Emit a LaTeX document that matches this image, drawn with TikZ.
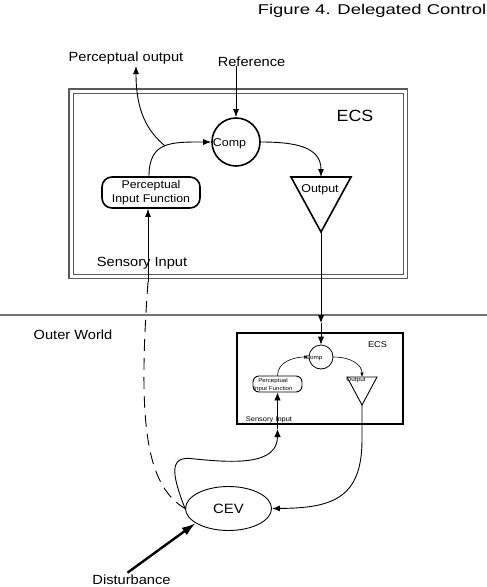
\documentclass[tikz,border=0pt]{standalone}
\usepackage{fontspec}
\setmainfont{Liberation Sans}[FakeStretch=1.1]
\newfontfamily\titlefont{Liberation Sans}[FakeStretch=1.3]
\usetikzlibrary{arrows.meta,shapes.geometric}
\definecolor{boxgray}{RGB}{90,90,90}
\definecolor{linegray}{RGB}{115,115,115}
\begin{document}
\begin{tikzpicture}[x=1pt,y=-1pt,
  lbl/.style={inner sep=0pt, anchor=base, font=\fontsize{13.3}{16}\selectfont},
  midtxt/.style={inner sep=0pt, anchor=base, font=\fontsize{11.3}{14}\selectfont},
  tinytxt/.style={inner sep=0pt, anchor=base, font=\fontsize{5.8}{8}\selectfont},
  arr/.style={-{Latex[length=8pt,width=6pt]}, line width=0.9pt},
  marr/.style={-{Latex[length=8pt,width=6.5pt]}, line width=0.9pt},
  sarr/.style={-{Latex[length=4.5pt,width=3.5pt]}, line width=0.6pt},
  thickshape/.style={draw, line width=1.6pt},
]
\useasboundingbox (0,0) rectangle (487,587);

% title
\node[anchor=base east, inner sep=0pt, font=\titlefont\fontsize{14.2}{17}\selectfont] (title) at (486.5,14) {Figure 4. Delegated Control};

% outer labels
\node[lbl] (po) at (126,61) {Perceptual output};
\node[lbl] (ref) at (251.5,66) {Reference};
\coordinate (potip) at (136,66);

% big ECS box
\node[draw=boxgray, double, double distance=3pt, line width=1.2pt, minimum width=334.5pt, minimum height=185.5pt, inner sep=0pt] (ecs) at (238.25,183.75) {};
\node[inner sep=0pt, anchor=base, font=\fontsize{16.2}{19}\selectfont] (ecslbl) at (355,121) {ECS};

% comparator
\node[thickshape, circle, minimum size=48pt, inner sep=0pt] (comp) at (236,142) {};
\node[midtxt] (comptxt) at (229.5,146) {Comp};

% perceptual input function
\node[thickshape, rounded corners=10pt, minimum width=98pt, minimum height=31pt, inner sep=0pt, align=center, font=\fontsize{11.2}{14}\selectfont] (pif) at (151,192.5) {Perceptual\\Input Function};

% output triangle
\coordinate (otl) at (291,177);
\coordinate (otr) at (351,177);
\coordinate (oapex) at (321,232);
\coordinate (otop) at (321,177);
\draw[line width=1.6pt, line join=miter] (otl) -- (otr) -- (oapex) -- cycle;
\node[midtxt] (outtxt) at (320,192) {Output};

\node[lbl] (silbl) at (142,266) {Sensory Input};

% connectors in big ECS
\draw[arr] (ref.south -| comp.north) -- (comp.north);
\draw[arr] ([xshift=-2pt]pif.north) .. controls +(0,-35) and +(-40,0) .. coordinate[pos=0.5] (junc) (comp.west);
\draw[arr] (junc) .. controls +(-18,-15) and +(0,45) .. (potip);
\draw[arr] (comp.east) .. controls +(35,0) and +(0,-30) .. (otop);

% boundary line
\draw[draw=linegray, line width=1.4pt] (0,315) -- (487,315);
\node[lbl] (owlbl) at (73,339) {Outer World};

% small ECS box
\node[draw, line width=1.8pt, minimum width=166pt, minimum height=91pt, inner sep=0pt] (secs) at (320,378.5) {};
\node[inner sep=0pt, anchor=base, font=\fontsize{8.4}{10}\selectfont] (secslbl) at (377.5,347) {ECS};
\node[draw, circle, minimum size=24pt, inner sep=0pt, line width=0.8pt] (scomp) at (321,357) {};
\node[tinytxt] (scomptxt) at (314,359.5) {Comp};
\node[draw, rounded corners=6pt, line width=0.9pt, minimum width=49pt, minimum height=16pt, inner sep=0pt] (spif) at (277.5,384) {};
\node[inner sep=0pt, align=center, font=\fontsize{5.6}{8}\selectfont] (spiftxt) at (273,385) {Perceptual\\Input Function};
\coordinate (sotl) at (347,377);
\coordinate (sotr) at (377,377);
\coordinate (soapex) at (362,405);
\coordinate (sotop) at (362,377);
\draw[line width=0.9pt, line join=miter] (sotl) -- (sotr) -- (soapex) -- cycle;
\node[tinytxt] (souttxt) at (356,381) {Output};
\node[inner sep=0pt, anchor=base, font=\fontsize{6.8}{8}\selectfont] (ssilbl) at (269,421) {Sensory Input};

\draw[sarr] (spif.north) .. controls +(0,-14) and +(-14,0) .. (scomp.west);
\draw[sarr] (scomp.east) .. controls +(18,0) and +(0,-12) .. (sotop);

% output to small ECS
\coordinate (m1) at (321,323);
\draw[marr] (oapex) -- (m1);
\draw[marr] (m1) -- (scomp.north);

% CEV
\node[draw, ellipse, minimum width=86pt, minimum height=44pt, inner sep=0pt, line width=0.9pt, font=\fontsize{13.5}{16}\selectfont] (cev) at (228.5,508.5) {CEV};
\node[lbl] (dist) at (131.5,584.5) {Disturbance};

% sensory input
\coordinate (si) at (148,282);
\draw[arr] (si) -- (si |- pif.south);
\draw[line width=0.9pt, dash pattern=on 12pt off 7pt] (si) .. controls (138,420) and (145,485) .. (cev.west);

\coordinate (m2) at (277.5,429);
\draw[marr] (cev.west) .. controls (170,470) and (170,455) .. (195,459) .. controls (235,463) and (277.5,465) .. (m2);
\draw[marr] (m2) -- (m2 |- spif.south);

\draw[arr] (soapex) -- (362,440) .. controls (362,500) and (330,508) .. (cev.east);

\draw[-{Latex[length=14pt,width=9pt]}, line width=2.4pt] ([xshift=-4pt,yshift=2pt]dist.north) -- (cev.204);
\end{tikzpicture}
\end{document}
